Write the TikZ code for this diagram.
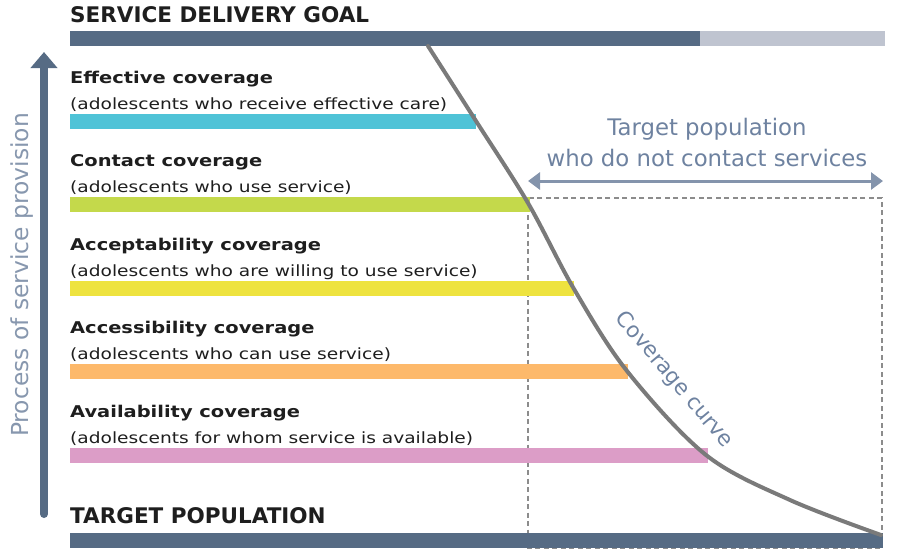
\documentclass[tikz,border=0pt]{standalone}
\usepackage{fontspec}
\setmainfont{DejaVu Sans}
\newfontfamily\widefont{DejaVu Sans}[FakeStretch=1.2]
\usepackage{tikz}
\usetikzlibrary{arrows.meta}
\definecolor{slate}{HTML}{566B84}
\definecolor{lightbar}{HTML}{BFC4D0}
\definecolor{effcol}{HTML}{4FC3D7}
\definecolor{concol}{HTML}{C4D94B}
\definecolor{acpcol}{HTML}{EEE33F}
\definecolor{acscol}{HTML}{FDB96B}
\definecolor{avlcol}{HTML}{DC9DC7}
\definecolor{curvegray}{HTML}{7A7A7A}
\definecolor{dashgray}{HTML}{8C8C8C}
\definecolor{spancol}{HTML}{8494AC}
\definecolor{notecol}{HTML}{6E82A0}
\definecolor{proccol}{HTML}{8797AE}
\definecolor{txtdark}{HTML}{1E1E1E}

\begin{document}
\begin{tikzpicture}[
    x=1pt,y=-1pt,
    title/.style={
      anchor=base west,
      inner sep=0pt,
      font=\bfseries\fontsize{21.5}{25}\selectfont,
      text=txtdark
      },
    head/.style={
      anchor=base west,
      inner sep=0pt,
      font=\widefont\bfseries\fontsize{16.2}{19}\selectfont,
      text=txtdark
      },
    sub/.style={
      anchor=base west,
      inner sep=0pt,
      font=\widefont\fontsize{15.5}{18}\selectfont,
      text=txtdark
      },
    note/.style={
      inner sep=0pt,
      font=\fontsize{22.8}{27}\selectfont,
      text=notecol
      },
    curve/.style={
      draw=curvegray,
      line width=4pt,
      line cap=round
      },
    dashbox/.style={
      draw=dashgray,
      line width=1.2pt,
      dash pattern=on 5pt off 3.5pt
      },
    span/.style={
      >={Triangle[length=12pt,width=17pt]},
      <->,
      draw=spancol,
      line width=3pt
      },
    up/.style={
      >={Triangle[length=16pt,width=26pt]},
      ->,
      draw=slate,
      line width=8pt,
      line cap=round
      },
    >=latex
    ]
    \useasboundingbox (0,0) rectangle (897,555);
    \node[title] (goal) at (70,22) {SERVICE DELIVERY GOAL};
    \fill[slate] (70,31) rectangle (700,46);
    \fill[lightbar] (700,31) rectangle (885,46);
    \draw[dashbox] (528,198) rectangle (882,548);
    \foreach \nm/\yt/\xe/\col/\hd/\sb in {
      eff/114/476/effcol/Effective coverage/adolescents who receive effective care,
      con/197/530/concol/Contact coverage/adolescents who use service,
      acp/281/574/acpcol/Acceptability coverage/adolescents who are willing to use service,
      acs/364/628/acscol/Accessibility coverage/adolescents who can use service,
      avl/448/708/avlcol/Availability coverage/adolescents for whom service is available}
    {
      \fill[fill=\col] (70,\yt) rectangle (\xe,\yt+15);
      \node[head] (head-\nm) at (70,\yt-31) {\hd};
      \node[sub] (sub-\nm) at (70,\yt-5) {(\sb)};
    }
    \node[title] (target) at (70,523) {TARGET POPULATION};
    \fill[slate] (70,533) rectangle (883,548);
    \draw[curve] plot[smooth,tension=0.55] coordinates {(428,46) (476,121) (528,203) (574,289) (627,371) (706,455) (790,500) (881,535)};
    \node[note,font=\fontsize{21.5}{25}\selectfont,rotate=-50] (cvlabel) at (674,380) {Coverage curve};
    \node[note,anchor=base] (tp-a) at (707,135) {Target population};
    \node[note,anchor=base] (tp-b) at (707,166) {who do not contact services};
    \coordinate (spanl) at (528,181);
    \coordinate (spanr) at (883,181);
    \draw[span] (spanl) -- (spanr);
    \coordinate (upfoot) at (44,514);
    \coordinate (uptip) at (44,52);
    \draw[up] (upfoot) -- (uptip);
    \node[note,text=proccol,font=\fontsize{23.4}{27}\selectfont,rotate=90] (proc) at (22,275) {Process of service provision};
\end{tikzpicture}
\end{document}
